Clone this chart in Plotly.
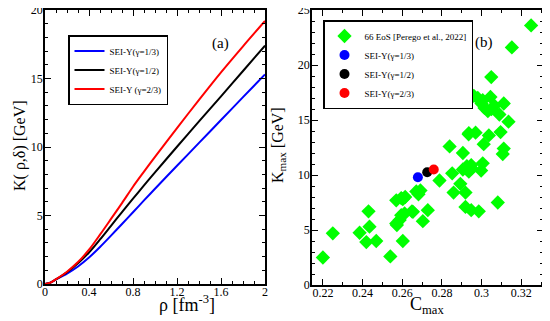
import plotly.graph_objects as go

# ---- Panel (a) data: K(rho, delta) curves ----
rho = [0.0, 0.05, 0.1, 0.2, 0.3, 0.4, 0.5, 0.6, 0.7, 0.8, 0.9, 1.0, 1.2, 1.4, 1.6, 1.8, 2.0]
k_g13 = [0.0, 0.10, 0.33, 0.76, 1.28, 1.93, 2.70, 3.53, 4.38, 5.24, 6.10, 6.95, 8.63, 10.30, 11.97, 13.64, 15.30]
k_g12 = [0.0, 0.10, 0.34, 0.86, 1.52, 2.30, 3.25, 4.25, 5.25, 6.23, 7.20, 8.15, 10.02, 11.87, 13.70, 15.55, 17.40]
k_g23 = [0.0, 0.10, 0.35, 0.90, 1.60, 2.50, 3.60, 4.75, 5.90, 7.10, 8.20, 9.28, 11.38, 13.44, 15.45, 17.35, 19.20]

# ---- Panel (b) data: Kmax vs Cmax ----
eos_c = [0.325, 0.3153, 0.3049, 0.2961, 0.2981, 0.3006, 0.3045, 0.3112, 0.3015, 0.3032,
         0.3065, 0.309, 0.3136, 0.2936, 0.297, 0.3037, 0.3096, 0.3011, 0.2839, 0.2906,
         0.3112, 0.3107, 0.2926, 0.2948, 0.2906, 0.2936, 0.3006, 0.2998, 0.2852, 0.2788,
         0.2893, 0.2859, 0.2919, 0.3082, 0.2919, 0.2948, 0.2986, 0.22, 0.225, 0.2385,
         0.243, 0.2435, 0.2419, 0.2469, 0.254, 0.2603, 0.257, 0.2587, 0.2595, 0.2612,
         0.2649, 0.2704, 0.2729, 0.257, 0.2595, 0.2615, 0.2671, 0.2682, 0.2692, 0.2603,
         0.2573, 0.2654, 0.3000, 0.3050, 0.2950, 0.2935]
eos_k = [23.6, 21.6, 18.9, 17.2, 17.0, 16.8, 17.1, 16.5, 16.1, 15.8,
         16.3, 15.5, 14.85, 13.8, 13.85, 13.6, 13.9, 12.8, 12.6, 12.0,
         12.4, 11.9, 10.8, 10.9, 10.5, 10.3, 11.06, 10.4, 10.15, 9.5,
         9.2, 8.4, 8.4, 7.5, 7.1, 6.8, 6.7, 2.5, 4.7, 4.75,
         6.7, 5.3, 3.9, 4.0, 2.6, 4.0, 5.6, 5.9, 6.35, 6.5,
         6.7, 5.8, 6.8, 7.7, 7.9, 8.0, 8.5, 8.25, 8.6, 7.8,
         5.45, 6.65, 16.5, 16.0, 10.6, 13.7]

sei_c = [0.2679, 0.2726, 0.2759]
sei_k = [9.8, 10.25, 10.5]
sei_names = ["SEI-Y(γ=1/3)", "SEI-Y(γ=1/2)", "SEI-Y(γ=2/3)"]
curve_names = ["SEI-Y(γ=1/3)", "SEI-Y(γ=1/2)", "SEI-Y (γ=2/3)"]
colors = ["#0000ff", "#000000", "#ff0000"]

SERIF = "Liberation Serif"

fig = go.Figure()

for ks, name, col in zip([k_g13, k_g12, k_g23], curve_names, colors):
    fig.add_trace(go.Scatter(x=rho, y=ks, mode="lines", name=name,
                             line=dict(color=col, width=2, shape="spline", smoothing=0.8),
                             xaxis="x", yaxis="y", legend="legend"))

fig.add_trace(go.Scatter(x=eos_c, y=eos_k, mode="markers", name="66 EoS [Perego et al., 2022]",
                         marker=dict(symbol="diamond", size=11, color="#00ff00"),
                         xaxis="x2", yaxis="y2", legend="legend2"))
for c, k, name, col in zip(sei_c, sei_k, sei_names, colors):
    fig.add_trace(go.Scatter(x=[c], y=[k], mode="markers", name=name,
                             marker=dict(symbol="circle", size=10, color=col),
                             xaxis="x2", yaxis="y2", legend="legend2"))

axis_common = dict(showline=True, linecolor="black", linewidth=1.5, mirror="allticks",
                   ticks="inside", ticklen=6, tickwidth=1, tickcolor="black",
                   showgrid=False, zeroline=False, automargin=False,
                   ticklabeloverflow="allow",
                   tickfont=dict(family=SERIF, size=12, color="black"),
                   minor=dict(ticks="inside", ticklen=3, tickwidth=1, tickcolor="black", showgrid=False))

# The page body adds an 8px offset; positions below are given in target pixels.
OFF = 8
# plot area in target pixels: x 45..543, y 10..285
L_T, R_T, T_T, B_T = 45, 543, 10, 285
ML, MT = L_T - OFF, T_T - OFF
MR = 550 - (R_T - OFF)
MB = 321 - (B_T - OFF)
PW, PH = R_T - L_T, B_T - T_T


def px(xp):
    return (xp - L_T) / PW


def py(yp):
    return (B_T - yp) / PH


fig.update_layout(
    width=550, height=321,
    margin=dict(l=ML, r=MR, t=MT, b=MB),
    paper_bgcolor="white", plot_bgcolor="white",
    showlegend=True,
    xaxis=dict(domain=[0, px(265)], range=[0, 2], dtick=0.4, tick0=0,
               minor_dtick=0.1, anchor="y", ticklabelstandoff=-4, **axis_common),
    yaxis=dict(domain=[py(284), 1], range=[0, 20], dtick=5, minor_dtick=1, anchor="x",
               ticklabelstandoff=-2, **axis_common),
    xaxis2=dict(domain=[px(312), 1], range=[0.2145, 0.331], dtick=0.02, tick0=0.22,
                minor_dtick=0.01, anchor="y2", ticklabelstandoff=-4, **axis_common),
    yaxis2=dict(domain=[0, 1], range=[0, 25], dtick=5, minor_dtick=1, anchor="x2",
                ticklabelstandoff=-2, **axis_common),
    legend=dict(x=px(68), y=py(35), xanchor="left", yanchor="top",
                bgcolor="white", bordercolor="black", borderwidth=1.5,
                font=dict(family=SERIF, size=9, color="black"), tracegroupgap=0),
    legend2=dict(x=px(323), y=py(20), xanchor="left", yanchor="top",
                 bgcolor="white", bordercolor="black", borderwidth=1.5,
                 font=dict(family=SERIF, size=9, color="black"), tracegroupgap=0),
    annotations=[
        dict(text="(a)", x=px(220), y=py(33), xref="paper", yref="paper", showarrow=False,
             font=dict(family=SERIF, size=15, color="black")),
        dict(text="(b)", x=px(495), y=py(32), xref="paper", yref="paper", showarrow=False,
             font=dict(family=SERIF, size=15, color="black")),
        dict(text="ρ [fm<sup>-3</sup>]", x=px(157), y=py(317), xref="paper", yref="paper",
             showarrow=False, font=dict(family=SERIF, size=18, color="black")),
        dict(text="C<sub>max</sub>", x=px(446), y=py(319), xref="paper", yref="paper",
             showarrow=False, font=dict(family=SERIF, size=18, color="black")),
        dict(text="K( ρ,δ) [GeV]", x=px(9), y=py(146), xref="paper", yref="paper",
             showarrow=False, textangle=-90, font=dict(family=SERIF, size=16, color="black")),
        dict(text="K<sub>max</sub> [GeV]", x=px(278), y=py(145), xref="paper", yref="paper",
             showarrow=False, textangle=-90, font=dict(family=SERIF, size=16, color="black")),
    ],
)

fig.write_html("out.html")
